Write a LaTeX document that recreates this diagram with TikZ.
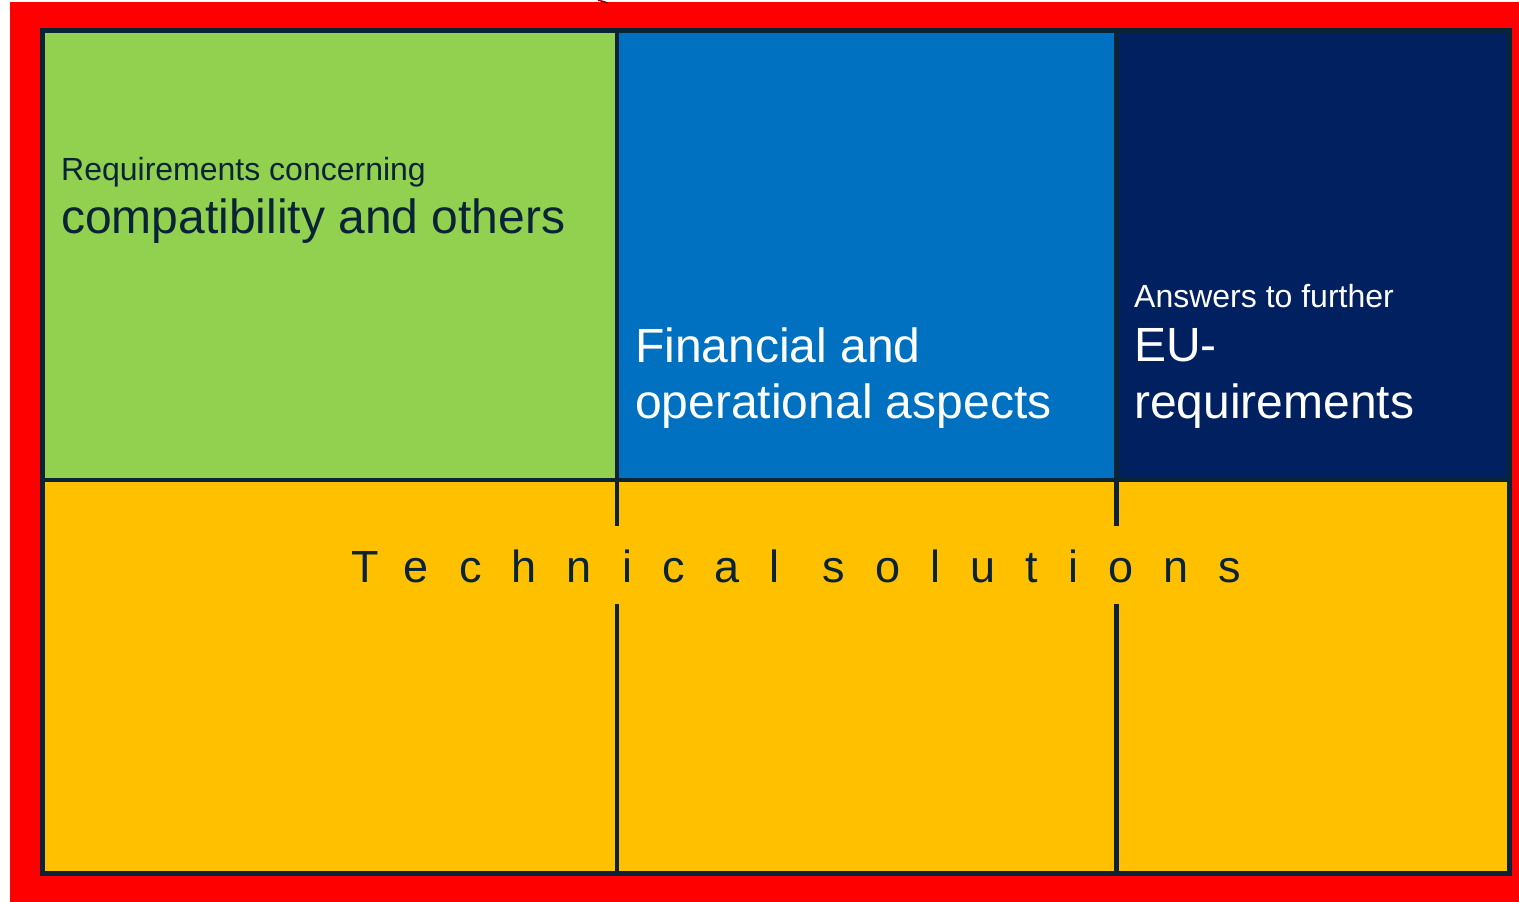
\documentclass[tikz,border=0pt]{standalone}
\usepackage{fontspec}
\setmainfont{Liberation Sans}
\usetikzlibrary{positioning}

\definecolor{bgred}{HTML}{FF0000}
\definecolor{reqgreen}{HTML}{92D050}
\definecolor{finblue}{HTML}{0070C0}
\definecolor{eunavy}{HTML}{002060}
\definecolor{techyellow}{HTML}{FFC000}
\definecolor{framenavy}{HTML}{0A2337}

\tikzset{
  cell/.style={rectangle, inner sep=0pt, outer sep=0pt, draw=none},
  divider/.style={draw=framenavy, line width=4.5pt},
  smalltext/.style={anchor=base west, inner sep=0pt, font=\fontsize{32}{38}\selectfont},
  bigtext/.style={anchor=base west, inner sep=0pt, font=\fontsize{48}{56}\selectfont}
}

\begin{document}
\begin{tikzpicture}[x=1pt, y=-1pt]
\useasboundingbox (0,0) rectangle (1519,902);
\fill[white] (0,0) rectangle (1519,902);
\fill[bgred] (10,2) rectangle (1519,902);
\draw[color=red!55!black, line width=1.5pt] (598,0) .. controls (603,1) .. (608,3);

% the four cells
\node (req) at (329.75,255.25) [cell, fill=reqgreen, minimum width=574.5pt, minimum height=449.5pt]{};
\node (fin) at (866.75,255.25) [cell, fill=finblue, minimum width=499.5pt, minimum height=449.5pt]{};
\node (eu) at (1313,255.25) [cell, fill=eunavy, minimum width=393pt, minimum height=449.5pt]{};
\node (tech) at (776,676.75) [cell, fill=techyellow, minimum width=1467pt, minimum height=393.5pt]{};

% texts
\node (req-1) at (61,180) [smalltext, text=framenavy]{Requirements concerning};
\node (req-2) at (61,233) [bigtext, text=framenavy]{compatibility and others};

\node (fin-1) at (635,362) [bigtext, text=white]{Financial and};
\node (fin-2) at (635,418) [bigtext, text=white]{operational aspects};

\node (eu-1) at (1134,307) [smalltext, text=white]{Answers to further};
\node (eu-2) at (1134,361) [bigtext, text=white]{EU-};
\node (eu-3) at (1134,418) [bigtext, text=white]{requirements};

\node (tech-1) at (351,582) [anchor=base west, inner sep=0pt, text=framenavy,
  font=\fontsize{45}{54}\selectfont\addfontfeatures{LetterSpace=67}]{Technical solutions};

% dividers
\coordinate (gap-1a) at (617,526);
\coordinate (gap-1b) at (617,604);
\coordinate (gap-2a) at (1116.5,526);
\coordinate (gap-2b) at (1116.5,604);
\draw [divider] (req.south west) -- (eu.south east);
\draw [divider] (req.north east) -- (gap-1a);
\draw [divider] (gap-1b) -- (gap-1b |- tech.south);
\draw [divider] (fin.north east) -- (gap-2a);
\draw [divider] (gap-2b) -- (gap-2b |- tech.south);

% outer frame
\draw [framenavy, line width=5pt] (req.north west) rectangle (tech.south east);
\end{tikzpicture}
\end{document}
